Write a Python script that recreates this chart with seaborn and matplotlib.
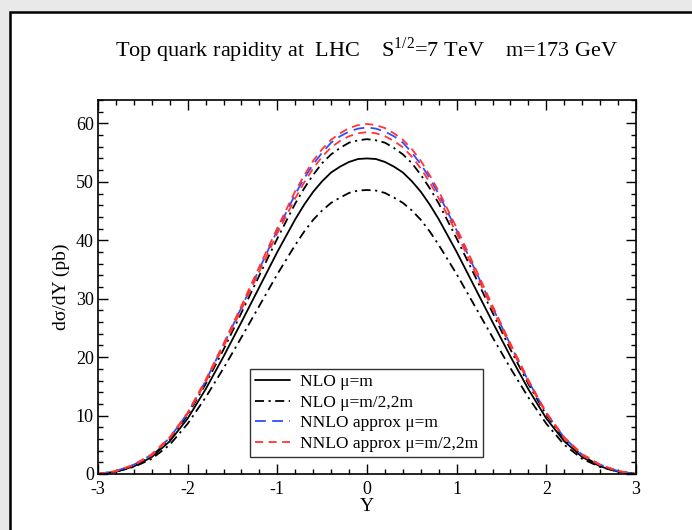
import numpy as np
import matplotlib
matplotlib.use("Agg")
import matplotlib.pyplot as plt
import seaborn as sns
from matplotlib.patches import Rectangle
from matplotlib.ticker import MultipleLocator

# rapidity grid and cross sections (pb)
rapidity = [-3.0, -2.8, -2.6, -2.4, -2.2, -2.0, -1.8, -1.6, -1.4, -1.2, -1.0, -0.8,
            -0.7, -0.6, -0.5, -0.4, -0.3, -0.2, -0.1, 0.0, 0.1, 0.2, 0.3, 0.4, 0.5, 0.6, 0.7,
            0.8, 1.0, 1.2, 1.4, 1.6, 1.8, 2.0, 2.2, 2.4, 2.6, 2.8, 3.0]

nlo_m = [0.0, 0.4, 1.3, 2.9, 5.6, 9.5, 14.5, 20.1, 26.0, 32.0, 38.0, 43.6,
         46.1, 48.3, 50.1, 51.6, 52.6, 53.4, 53.9, 54.0, 53.9, 53.4, 52.6, 51.6, 50.1, 48.3, 46.1,
         43.6, 38.0, 32.0, 26.0, 20.1, 14.5, 9.5, 5.6, 2.9, 1.3, 0.4, 0.0]
nlo_low = [0.0, 0.4, 1.2, 2.6, 5.0, 8.6, 13.1, 18.1, 23.4, 28.8, 34.2, 39.2,
           41.5, 43.5, 45.1, 46.4, 47.3, 48.1, 48.5, 48.6, 48.5, 48.1, 47.3, 46.4, 45.1, 43.5, 41.5,
           39.2, 34.2, 28.8, 23.4, 18.1, 13.1, 8.6, 5.0, 2.6, 1.2, 0.4, 0.0]
nlo_high = [0.0, 0.4, 1.4, 3.1, 5.9, 10.1, 15.4, 21.3, 27.6, 34.0, 40.3, 46.3,
            48.9, 51.2, 53.2, 54.7, 55.8, 56.7, 57.1, 57.3, 57.1, 56.7, 55.8, 54.7, 53.2, 51.2, 48.9,
            46.3, 40.3, 34.0, 27.6, 21.3, 15.4, 10.1, 5.9, 3.1, 1.4, 0.4, 0.0]
nnlo_m = [0.0, 0.5, 1.6, 3.3, 6.2, 10.4, 15.9, 22.1, 28.5, 35.1, 41.7, 47.9,
          50.6, 53.0, 55.0, 56.7, 57.8, 58.6, 59.1, 59.3, 59.1, 58.6, 57.8, 56.7, 55.0, 53.0, 50.6,
          47.9, 41.7, 35.1, 28.5, 22.1, 15.9, 10.4, 6.2, 3.3, 1.6, 0.5, 0.0]
nnlo_low = [0.0, 0.5, 1.5, 3.2, 6.1, 10.3, 15.7, 21.8, 28.2, 34.7, 41.2, 47.2,
            49.9, 52.3, 54.3, 55.9, 57.0, 57.8, 58.3, 58.5, 58.3, 57.8, 57.0, 55.9, 54.3, 52.3, 49.9,
            47.2, 41.2, 34.7, 28.2, 21.8, 15.7, 10.3, 6.1, 3.2, 1.5, 0.5, 0.0]
nnlo_high = [0.0, 0.5, 1.6, 3.4, 6.3, 10.5, 16.1, 22.3, 28.8, 35.5, 42.1, 48.4,
             51.1, 53.6, 55.6, 57.2, 58.3, 59.2, 59.7, 59.9, 59.7, 59.2, 58.3, 57.2, 55.6, 53.6, 51.1,
             48.4, 42.1, 35.5, 28.8, 22.3, 16.1, 10.5, 6.3, 3.4, 1.6, 0.5, 0.0]

x_ticks = [-3, -2, -1, 0, 1, 2, 3]
y_ticks = [0, 10, 20, 30, 40, 50, 60]

sns.set_theme(style="ticks")
plt.rcParams["font.family"] = ["Liberation Serif", "DejaVu Serif"]
plt.rcParams["mathtext.fontset"] = "custom"
plt.rcParams["mathtext.rm"] = "Liberation Serif"
plt.rcParams["axes.unicode_minus"] = False
for key in ["text.color", "axes.labelcolor", "xtick.color", "ytick.color"]:
    plt.rcParams[key] = "black"

fig = plt.figure(figsize=(6.92, 5.30), dpi=100, facecolor="#e9e9e9")

# window-like white panel with black border
panel = Rectangle((10 / 692, -0.1), 1.2, 1 - 12 / 530 + 0.1, transform=fig.transFigure,
                  facecolor="white", edgecolor="black", lw=1.8, zorder=-1)
fig.add_artist(panel)

ax = fig.add_axes([98 / 692, 1 - 474 / 530, 538 / 692, 374 / 530])
ax.set_facecolor("white")

lw = 1.3
blue = "#2f4dff"
red = "#ff3535"
dashdot = (0, (5, 2.5, 1.2, 2.5))
blue_dash = (0, (6, 3.5))
red_dash = (0, (4.5, 3))

sns.lineplot(x=rapidity, y=nlo_m, ax=ax, color="black", lw=lw, label="NLO μ=m")
sns.lineplot(x=rapidity, y=nlo_low, ax=ax, color="black", lw=lw, linestyle=dashdot,
             label="NLO μ=m/2,2m")
sns.lineplot(x=rapidity, y=nlo_high, ax=ax, color="black", lw=lw, linestyle=dashdot)
sns.lineplot(x=rapidity, y=nnlo_m, ax=ax, color=blue, lw=lw, linestyle=blue_dash,
             label="NNLO approx μ=m")
sns.lineplot(x=rapidity, y=nnlo_low, ax=ax, color=red, lw=lw, linestyle=red_dash,
             label="NNLO approx μ=m/2,2m")
sns.lineplot(x=rapidity, y=nnlo_high, ax=ax, color=red, lw=lw, linestyle=red_dash)

ax.set_xlim(-3, 3)
ax.set_ylim(0, 64)
ax.set_xticks(x_ticks)
ax.set_yticks(y_ticks)
ax.xaxis.set_minor_locator(MultipleLocator(0.2))
ax.yaxis.set_minor_locator(MultipleLocator(2))
ax.tick_params(which="both", direction="in", top=True, right=True, colors="black",
               labelsize=13, width=1.0)
ax.tick_params(which="major", length=7)
ax.tick_params(which="minor", length=3.5)
ax.tick_params(axis="x", which="major", pad=5)
ax.tick_params(axis="y", which="major", pad=3)
for sp in ax.spines.values():
    sp.set_visible(True)
    sp.set_linewidth(1.2)
    sp.set_color("black")

ax.set_xlabel("Y", fontsize=14, labelpad=0)
ax.set_ylabel("dσ/dY (pb)", fontsize=14, labelpad=4)

leg = ax.legend(loc="lower left", bbox_to_anchor=(0.283, 0.045), borderaxespad=0,
                fontsize=12.5, frameon=True, fancybox=False, handlelength=2.0,
                handletextpad=0.55, labelspacing=0.25, borderpad=0.3)
leg.get_frame().set_edgecolor("black")
leg.get_frame().set_linewidth(1.0)

fig.text(0.530, 1 - 50 / 530, r"Top quark rapidity at  LHC    S$^{1/2}$=7 TeV    m=173 GeV",
         ha="center", va="center", fontsize=16)

fig.savefig("out.png", dpi=100, facecolor=fig.get_facecolor())
